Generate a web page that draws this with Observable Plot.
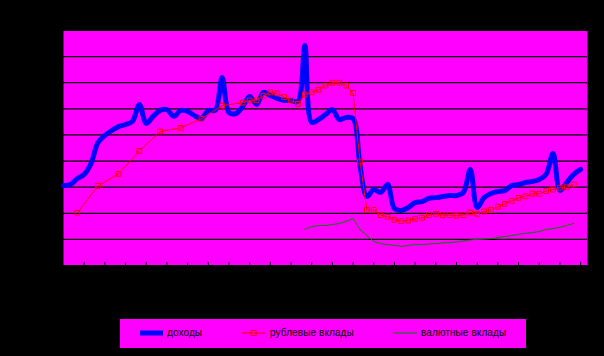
<!DOCTYPE html>
<html><head><meta charset="utf-8">
<script src="https://cdn.jsdelivr.net/npm/d3@7"></script>
<script src="https://cdn.jsdelivr.net/npm/@observablehq/plot@0.6"></script>
<style>
html,body{margin:0;padding:0;background:#000;width:604px;height:356px;overflow:hidden;}
#chart{position:absolute;left:0;top:0;}
#legend{position:absolute;left:120px;top:319px;width:406px;height:29px;background:#ff00ff;font-family:"Liberation Sans",Arial,sans-serif;font-size:10px;color:#000;}
.item{position:absolute;top:-1px;height:29px;display:flex;align-items:center;letter-spacing:0.1px;}
.item svg{margin-right:3px;}
</style></head><body>
<div id="chart"></div>
<div id="legend"></div>
<script>
// Monthly categories (index 0..75); tick marks every 3 months
const months = Array.from({length: 76}, (_, i) => i);
const tickMonths = [3,6,9,12,15,18,21,24,27,30,33,36,39,42,45,48,51,54,57,60,63,66,69,72,75];

const seriesNames = ["доходы", "рублевые вклады", "валютные вклады"];

// доходы (monthly)
const incomes = [30.6,31.0,33.3,34.9,39.1,47.1,49.8,51.7,53.2,54.0,
  55.2,61.7,54.4,57.1,59.4,59.7,57.1,59.4,59.0,57.4,
  56.3,59.4,59.4,72.0,58.6,58.2,60.9,64.7,61.7,66.3,
  65.1,64.0,63.2,63.2,62.8,84.3,54.8,55.9,57.8,59.7,
  55.9,56.7,56.3,38.3,26.4,29.1,28.0,31.0,21.8,21.1,
  22.2,24.1,24.5,25.7,26.0,26.4,26.8,26.8,28.0,36.8,
  22.2,26.0,27.6,28.3,28.7,30.6,31.0,31.8,32.2,32.9,
  34.9,42.9,28.7,31.8,34.9,36.8];

// рублевые вклады (quarterly at first, then monthly)
const rubDeposits = [null,null,20.2,null,null,30.5,null,null,35.1,null,
  null,43.9,null,null,51.3,null,null,52.7,null,null,
  56.2,null,null,61.2,null,null,62.4,63.2,63.3,65.0,
  66.3,65.9,64.5,63.2,61.9,65.5,66.3,67.3,68.9,70.0,
  70.0,68.9,66.1,39.8,21.3,21.3,19.3,18.7,17.5,17.0,
  17.2,17.9,18.3,19.3,19.8,19.3,19.3,19.1,19.3,20.3,
  19.8,20.7,21.3,22.5,23.6,24.8,25.9,26.5,27.5,27.5,
  28.5,29.1,29.8,30.0,31.0,null];

// валютные вклады
const fxDeposits = [null,null,null,null,null,null,null,null,null,null,
  null,null,null,null,null,null,null,null,null,null,
  null,null,null,null,null,null,null,null,null,null,
  null,null,null,null,null,13.8,14.9,15.3,15.3,15.7,
  16.1,16.9,18.0,13.8,11.5,9.2,8.4,8.0,7.7,7.3,
  7.7,8.0,8.0,8.2,8.4,8.6,8.8,9.0,9.4,9.8,
  10.0,10.1,10.3,10.7,11.1,11.5,11.9,12.3,12.6,13.0,
  13.8,14.2,14.6,15.3,16.1,null];

const gridValues = [0,10,20,30,40,50,60,70,80,90];
const colors = ["#0000ff", "#ff0000", "#008000"];

const toRows = arr => months.map(m => ({m, v: arr[m]})).filter(d => d.v != null);
const incRows = toRows(incomes);
const rubRows = toRows(rubDeposits);
const fxRows = toRows(fxDeposits);

const chart = Plot.plot({
  width: 604,
  height: 310,
  marginLeft: 63,
  marginRight: 17,
  marginTop: 30,
  marginBottom: 45,
  style: {background: "transparent", overflow: "visible"},
  x: {domain: [0, 76], axis: null},
  y: {domain: [0, 90], axis: null},
  marks: [
    Plot.frame({fill: "#ff00ff", stroke: null}),
    Plot.ruleY(gridValues, {stroke: "#000", strokeWidth: 1.2}),
    Plot.tickX(tickMonths, {x: d => d, stroke: "#000", insetTop: 232}),
    Plot.line(incRows, {x: "m", y: "v", stroke: colors[0], strokeWidth: 5, curve: "catmull-rom"}),
    Plot.line(fxRows, {x: "m", y: "v", stroke: colors[2], strokeWidth: 1}),
    Plot.line(rubRows, {x: "m", y: "v", stroke: colors[1], strokeWidth: 1}),
    Plot.dot(rubRows, {x: "m", y: "v", symbol: "square", r: 2.7, stroke: colors[1], fill: "none", strokeWidth: 1})
  ]
});
document.getElementById("chart").appendChild(chart);

// Legend
const legend = document.getElementById("legend");
const items = [
  {left: 20, swatch: `<svg width="24" height="8"><rect x="0" y="1.5" width="23" height="5" fill="${colors[0]}"/></svg>`},
  {left: 122, swatch: `<svg width="25" height="8"><line x1="0" y1="4" x2="24" y2="4" stroke="${colors[1]}" stroke-width="1"/><rect x="9" y="1.5" width="5" height="5" fill="none" stroke="${colors[1]}"/></svg>`},
  {left: 273, swatch: `<svg width="25" height="8"><line x1="0" y1="4" x2="24" y2="4" stroke="${colors[2]}" stroke-width="1"/></svg>`}
];
items.forEach((it, i) => {
  const d = document.createElement("div");
  d.className = "item";
  d.style.left = it.left + "px";
  d.innerHTML = it.swatch + "<span>" + seriesNames[i] + "</span>";
  legend.appendChild(d);
});
</script>
</body></html>
